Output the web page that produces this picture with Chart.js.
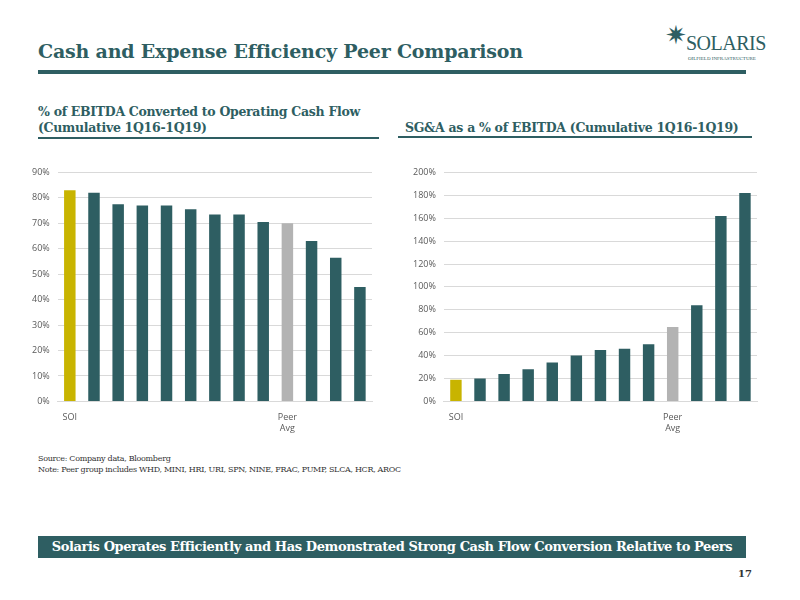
<!DOCTYPE html><html><head><meta charset="utf-8">
<script src="https://cdn.jsdelivr.net/npm/chart.js@4"></script>
<style>
body{margin:0;width:800px;height:600px;background:#fff;position:relative;font-family:"Liberation Serif",serif;overflow:hidden}
.a{position:absolute}
h1{position:absolute;left:38px;top:40px;margin:0;font:bold 19px "DejaVu Serif",serif;color:#2e5e62;letter-spacing:-0.2px}
.bar{position:absolute;background:#2e5e62}
.h2{position:absolute;font:bold 12.5px "DejaVu Serif",serif;color:#2e5e62;line-height:16px;letter-spacing:-0.3px}
</style></head><body>
<h1>Cash and Expense Efficiency Peer Comparison</h1>
<div class="bar" style="left:38px;top:70px;width:708px;height:4px"></div>
<div class="a" style="left:660px;top:20px;width:100px;height:50px">
<div class="a" style="left:5px;top:0;font:26px 'Liberation Serif';color:#2e5e62">✷</div>
<div class="a" style="left:26px;top:12px;font:20px 'Liberation Serif';color:#2e5e62;letter-spacing:-0.5px">SOLARIS</div>
<div class="a" style="left:28px;top:36px;font:5px 'Liberation Serif';color:#2e5e62">OILFIELD INFRASTRUCTURE</div></div>
<div class="h2" style="left:38px;top:104px">% of EBITDA Converted to Operating Cash Flow<br>(Cumulative 1Q16-1Q19)</div>
<div class="bar" style="left:38px;top:137px;width:341px;height:2px"></div>
<div class="h2" style="left:405px;top:120px">SG&amp;A as a % of EBITDA (Cumulative 1Q16-1Q19)</div>
<div class="bar" style="left:398px;top:136px;width:354px;height:2px"></div>
<div class="a" style="left:24px;top:159px;width:356px;height:278px"><canvas id="c1"></canvas></div>
<div class="a" style="left:405px;top:159px;width:360px;height:278px"><canvas id="c2"></canvas></div>
<div class="a" style="left:38px;top:453px;font:8px 'DejaVu Serif';color:#333;line-height:11px;letter-spacing:-0.3px">Source: Company data, Bloomberg<br>Note: Peer group includes WHD, MINI, HRI, URI, SPN, NINE, FRAC, PUMP, SLCA, HCR, AROC</div>
<div class="a" style="left:38px;top:536px;width:708px;height:22px;background:#2e5e62;color:#fff;font:bold 13px 'DejaVu Serif';text-align:center;line-height:22px;letter-spacing:-0.4px">Solaris Operates Efficiently and Has Demonstrated Strong Cash Flow Conversion Relative to Peers</div>
<div class="a" style="left:738px;top:568px;font:bold 10px 'DejaVu Serif';color:#333">17</div>
<script>
const labels1=["SOI","","","","","","","","","Peer Avg","","",""];
const ocf=[83,82,77.5,77,77,75.5,73.5,73.5,70.5,70,63,56.5,45];
const ticks1=[0,10,20,30,40,50,60,70,80,90];
const labels2=["SOI","","","","","","","","","Peer Avg","","",""];
const sga=[19,20,24,28,34,40,45,46,50,65,84,162,182];
const ticks2=[0,20,40,60,80,100,120,140,160,180,200];
const teal='#2e5e62',gold='#c8b400',grey='#b3b3b3';
function colors(n){return Array.from({length:n},(_, i)=>i===0?gold:i===9?grey:teal);}
function mk(id,labels,data,max,step){
new Chart(document.getElementById(id),{type:'bar',data:{labels:labels.map(l=>l==="Peer Avg"?["Peer","Avg"]:l),datasets:[{data,backgroundColor:colors(data.length),categoryPercentage:0.95,barPercentage:0.5}]},
options:{responsive:true,maintainAspectRatio:false,animation:false,layout:{padding:{top:4,right:8}},plugins:{legend:{display:false},tooltip:{enabled:false}},
scales:{y:{min:0,max,ticks:{stepSize:step,callback:v=>v+'%',color:'#595959',font:{size:9,family:'Open Sans'},padding:8},grid:{color:'#d9d9d9',drawTicks:false},border:{display:false}},
x:{ticks:{autoSkip:false,maxRotation:0,color:'#595959',font:{size:9,family:'Open Sans'}},grid:{display:false},border:{color:'#d9d9d9'}}}}});}
mk('c1',labels1,ocf,90,10);mk('c2',labels2,sga,200,20);
</script></body></html>
